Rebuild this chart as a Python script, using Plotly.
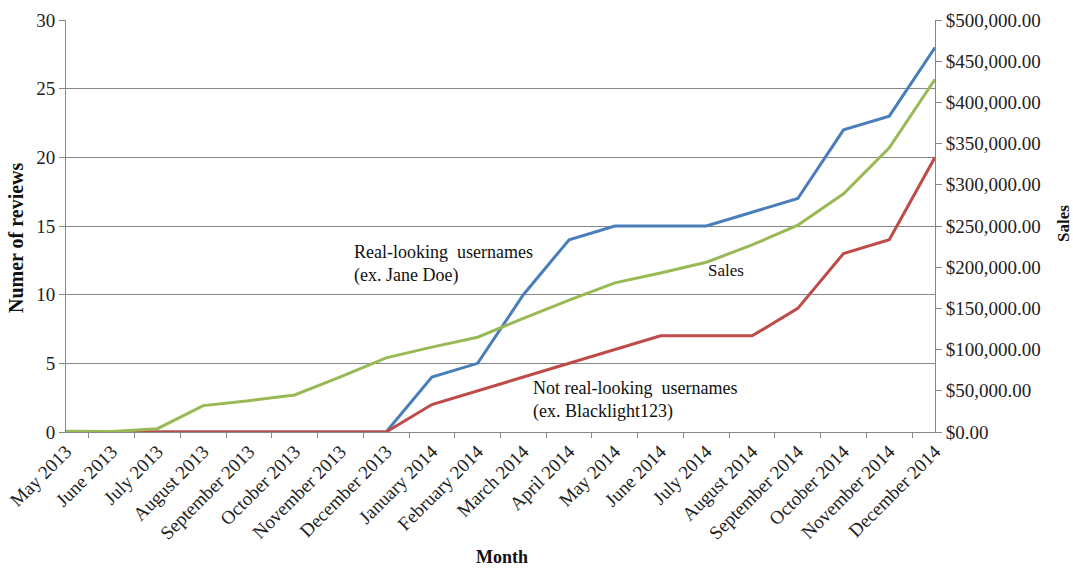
import plotly.graph_objects as go

months = [
    "May 2013", "June 2013", "July 2013", "August 2013", "September 2013",
    "October 2013", "November 2013", "December 2013", "January 2014",
    "February 2014", "March 2014", "April 2014", "May 2014", "June 2014",
    "July 2014", "August 2014", "September 2014", "October 2014",
    "November 2014", "December 2014",
]
real_looking = [0, 0, 0, 0, 0, 0, 0, 0, 4, 5, 10, 14, 15, 15, 15, 16, 17, 22, 23, 28]
not_real_looking = [0, 0, 0, 0, 0, 0, 0, 0, 2, 3, 4, 5, 6, 7, 7, 7, 9, 13, 14, 20]
sales = [1000, 500, 4000, 32000, 38000, 45000, 67000, 90000, 103000, 115000,
         138000, 160000, 181000, 193000, 206000, 227000, 251000, 289000,
         345000, 428000]

FONT = "Liberation Serif, Times New Roman, serif"
AXIS_GREY = "#868686"
L, R, T, B = 66, 138, 20, 139
W, H = 1073, 571


def px_x(px):
    return (px - L) / (W - L - R)


def px_y(py):
    return 1 - (py - T) / (H - T - B)


fig = go.Figure()
fig.add_trace(go.Scatter(x=months, y=real_looking, mode="lines",
                         line=dict(color="#4A7EBB", width=3), name="Real-looking usernames"))
fig.add_trace(go.Scatter(x=months, y=not_real_looking, mode="lines",
                         line=dict(color="#BE4B48", width=3), name="Not real-looking usernames"))
fig.add_trace(go.Scatter(x=months, y=sales, mode="lines", yaxis="y2",
                         line=dict(color="#98B954", width=3), name="Sales"))

fig.update_layout(
    width=W, height=H,
    margin=dict(l=L, r=R, t=T, b=B),
    paper_bgcolor="white", plot_bgcolor="white",
    showlegend=False,
    font=dict(family=FONT, size=18, color="#222222"),
    xaxis=dict(
        type="category", tickangle=-45, tickson="boundaries", automargin=False,
        ticks="outside", ticklen=5, tickcolor=AXIS_GREY,
        showline=True, linecolor=AXIS_GREY, linewidth=1,
        showgrid=False, zeroline=False,
        tickfont=dict(family=FONT, size=19),
    ),
    yaxis=dict(
        range=[0, 30], dtick=5, automargin=False,
        ticks="outside", ticklen=6, tickcolor=AXIS_GREY,
        showline=True, linecolor=AXIS_GREY, linewidth=1,
        showgrid=True, gridcolor=AXIS_GREY, gridwidth=1, zeroline=False,
        tickfont=dict(family=FONT, size=19),
    ),
    yaxis2=dict(
        range=[0, 500000], dtick=50000, overlaying="y", side="right", automargin=False,
        tickformat="$,.2f", ticks="outside", ticklen=6, tickcolor=AXIS_GREY,
        showline=True, linecolor=AXIS_GREY, linewidth=1,
        showgrid=False, zeroline=False,
        tickfont=dict(family=FONT, size=19),
    ),
)

# axis titles
fig.add_annotation(text="<b>Month</b>", showarrow=False, xref="paper", yref="paper",
                   x=px_x(502), y=px_y(568), xanchor="center", yanchor="bottom",
                   borderpad=0, font=dict(family=FONT, size=18, color="#111111"))
fig.add_annotation(text="<b>Numer of reviews</b>", showarrow=False, textangle=-90,
                   xref="paper", yref="paper", x=px_x(16), y=px_y(238),
                   xanchor="center", yanchor="middle",
                   font=dict(family=FONT, size=20, color="#111111"))
fig.add_annotation(text="<b>Sales</b>", showarrow=False, textangle=-90,
                   xref="paper", yref="paper", x=px_x(1063), y=px_y(224),
                   xanchor="center", yanchor="middle",
                   font=dict(family=FONT, size=17, color="#111111"))

# series labels
notes = [
    ("Real-looking  usernames<br>(ex. Jane Doe)", 352, 240, 18),
    ("Sales", 706, 259, 17),
    ("Not real-looking  usernames<br>(ex. Blacklight123)", 531, 376, 18),
]
for text, px, py, size in notes:
    fig.add_annotation(
        text=text, showarrow=False, align="left",
        xref="paper", yref="paper", x=px_x(px), y=px_y(py),
        xanchor="left", yanchor="top",
        font=dict(family=FONT, size=size, color="#111111"),
    )

fig.write_html("out.html")
